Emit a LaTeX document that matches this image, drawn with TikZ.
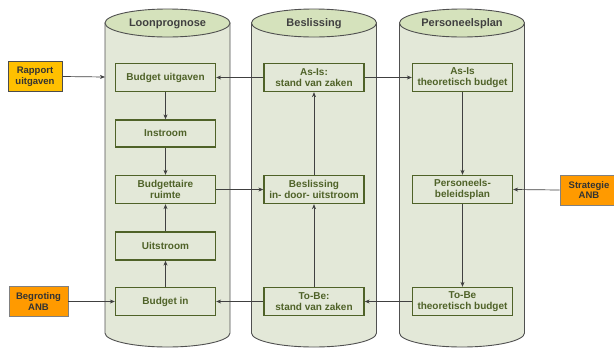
\documentclass[tikz,border=0pt]{standalone}
\usepackage{fontspec}
\setmainfont{Liberation Sans}
\usetikzlibrary{arrows.meta}
\definecolor{cylfill}{HTML}{E3E8D8}
\definecolor{topfill}{HTML}{D5E2BC}
\definecolor{olive}{HTML}{4F6228}
\definecolor{edgegray}{HTML}{505050}
\definecolor{yel}{HTML}{FFC000}
\definecolor{orng}{HTML}{FF9A00}
\tikzset{
  cyl/.style={fill=cylfill,draw=edgegray,line width=0.9pt},
  cyltop/.style={fill=topfill,draw=edgegray,line width=0.9pt},
  title/.style={font=\bfseries\fontsize{11}{12}\selectfont,text=black!75},
  box/.style={draw=olive,line width=1.3pt,fill=cylfill,minimum width=100pt,minimum height=28pt,inner sep=1pt,align=center,text=olive,font=\bfseries\fontsize{10}{12}\selectfont},
  ext/.style={line width=0.9pt,minimum width=54pt,minimum height=30pt,inner sep=1pt,align=center,text=black!80,font=\bfseries\fontsize{9.5}{10.5}\selectfont},
  conn/.style={draw=black!75,line width=0.7pt,-{Stealth[length=5pt,width=4pt]}},
}
\begin{document}
\begin{tikzpicture}[x=1pt,y=-1pt]
\useasboundingbox (0,0) rectangle (614,349);
\fill[white] (0,0) rectangle (614,349);
% cylinders
\foreach \cx/\nm in {167.5/Loonprognose,314/Beslissing,462/Personeelsplan}{
  \path[cyl] (\cx-62.5,23) -- (\cx-62.5,333) arc[start angle=180,end angle=0,x radius=62.5,y radius=14] -- (\cx+62.5,23) -- cycle;
  \path[cyltop] (\cx,23) ellipse[x radius=62.5,y radius=14];
  \node[title] at (\cx,24) {\nm};
}
% Loonprognose boxes
\node[box] (bu) at (165.5,77.5) {Budget uitgaven};
\node[box,minimum height=27pt] (in) at (165.5,133.5) {Instroom};
\node[box] (br) at (165.5,189.5) {Budgettaire\\[-1pt]ruimte};
\node[box] (ui) at (165.5,246) {Uitstroom};
\node[box] (bi) at (165.5,301.5) {Budget in};
% Beslissing boxes
\node[box] (asis) at (314,77.5) {As-Is:\\[-1pt]stand van zaken};
\node[box] (bes) at (314,189.5) {Beslissing\\[-1pt]in- door- uitstroom};
\node[box] (tobe) at (314,301.5) {To-Be:\\[-1pt]stand van zaken};
% Personeelsplan boxes
\node[box] (asit) at (462.5,77.5) {As-Is\\[-1pt]theoretisch budget};
\node[box] (pbp) at (462.5,189.5) {Personeels-\\[-1pt]beleidsplan};
\node[box] (tbt) at (462.5,301.5) {To-Be\\[-1pt]theoretisch budget};
% external boxes
\node[ext,draw=black!70,fill=yel] (rap) at (35,76.5) {Rapport\\uitgaven};
\node[ext,draw=gray,fill=orng,minimum width=59pt] (beg) at (38.5,301.5) {Begroting\\ANB};
\node[ext,draw=gray,fill=orng,minimum width=58pt] (str) at (589,190) {Strategie\\ANB};
\coordinate (cylL) at (105,77);
% connectors
\draw[conn] (rap.east) -- (cylL);
\draw[conn] (beg.east) -- (bi.west);
\draw[conn] (str.west) -- (pbp.east);
\draw[conn] (asis.west) -- (bu.east);
\draw[conn] (asis.east) -- (asit.west);
\draw[conn] (bu) -- (in);
\draw[conn] (in) -- (br);
\draw[conn] (bi) -- (ui);
\draw[conn] (ui) -- (br);
\draw[conn] (br.east) -- (bes.west);
\draw[conn] (tobe) -- (bes);
\draw[conn] (bes) -- (asis);
\draw[conn] (asit) -- (pbp);
\draw[conn] (pbp) -- (tbt);
\draw[conn] (tbt.west) -- (tobe.east);
\draw[conn] (tobe.west) -- (bi.east);
\end{tikzpicture}
\end{document}
